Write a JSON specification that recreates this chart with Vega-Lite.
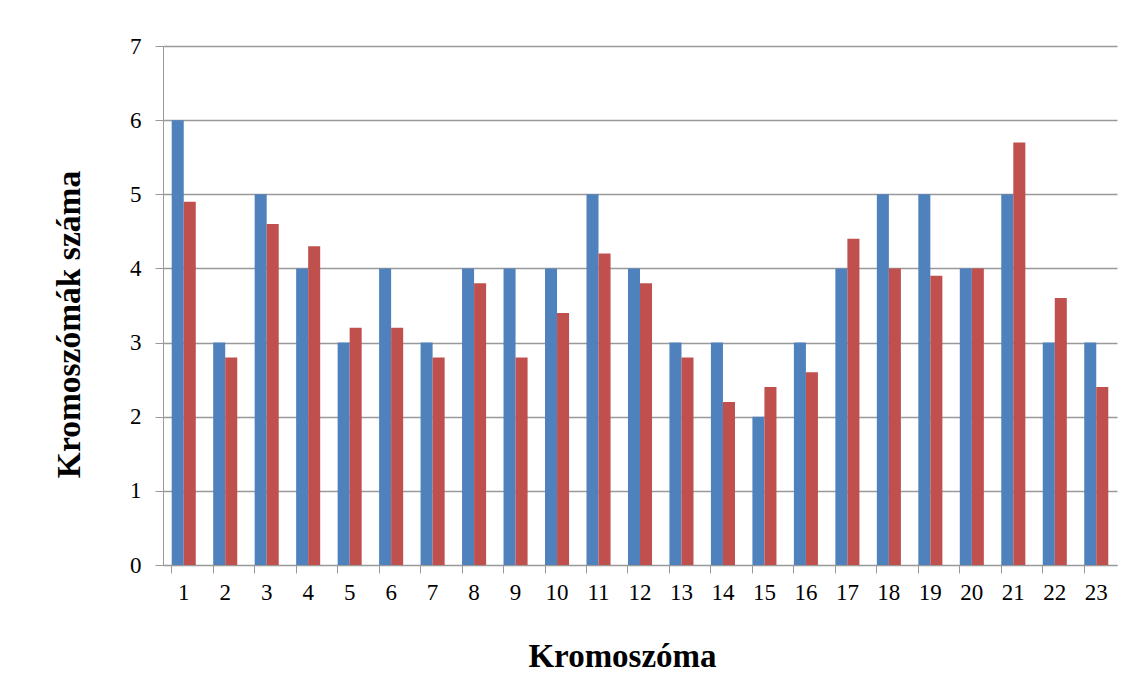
{
  "$schema": "https://vega.github.io/schema/vega-lite/v6.json",
  "autosize": "none",
  "width": 954,
  "height": 519,
  "padding": {"left": 163, "top": 46, "right": 24, "bottom": 120},
  "background": "white",
  "config": {
    "view": {"stroke": null},
    "font": "Liberation Serif"
  },
  "data": {
    "values": [
      {"k": 1, "s": "A", "v": 6}, {"k": 1, "s": "B", "v": 4.9},
      {"k": 2, "s": "A", "v": 3}, {"k": 2, "s": "B", "v": 2.8},
      {"k": 3, "s": "A", "v": 5}, {"k": 3, "s": "B", "v": 4.6},
      {"k": 4, "s": "A", "v": 4}, {"k": 4, "s": "B", "v": 4.3},
      {"k": 5, "s": "A", "v": 3}, {"k": 5, "s": "B", "v": 3.2},
      {"k": 6, "s": "A", "v": 4}, {"k": 6, "s": "B", "v": 3.2},
      {"k": 7, "s": "A", "v": 3}, {"k": 7, "s": "B", "v": 2.8},
      {"k": 8, "s": "A", "v": 4}, {"k": 8, "s": "B", "v": 3.8},
      {"k": 9, "s": "A", "v": 4}, {"k": 9, "s": "B", "v": 2.8},
      {"k": 10, "s": "A", "v": 4}, {"k": 10, "s": "B", "v": 3.4},
      {"k": 11, "s": "A", "v": 5}, {"k": 11, "s": "B", "v": 4.2},
      {"k": 12, "s": "A", "v": 4}, {"k": 12, "s": "B", "v": 3.8},
      {"k": 13, "s": "A", "v": 3}, {"k": 13, "s": "B", "v": 2.8},
      {"k": 14, "s": "A", "v": 3}, {"k": 14, "s": "B", "v": 2.2},
      {"k": 15, "s": "A", "v": 2}, {"k": 15, "s": "B", "v": 2.4},
      {"k": 16, "s": "A", "v": 3}, {"k": 16, "s": "B", "v": 2.6},
      {"k": 17, "s": "A", "v": 4}, {"k": 17, "s": "B", "v": 4.4},
      {"k": 18, "s": "A", "v": 5}, {"k": 18, "s": "B", "v": 4.0},
      {"k": 19, "s": "A", "v": 5}, {"k": 19, "s": "B", "v": 3.9},
      {"k": 20, "s": "A", "v": 4}, {"k": 20, "s": "B", "v": 4.0},
      {"k": 21, "s": "A", "v": 5}, {"k": 21, "s": "B", "v": 5.7},
      {"k": 22, "s": "A", "v": 3}, {"k": 22, "s": "B", "v": 3.6},
      {"k": 23, "s": "A", "v": 3}, {"k": 23, "s": "B", "v": 2.4}
    ]
  },
  "mark": {"type": "bar"},
  "encoding": {
    "x": {
      "field": "k", "type": "ordinal",
      "scale": {"paddingInner": 0.42, "paddingOuter": 0.21},
      "axis": {
        "title": "Kromoszóma",
        "titleFont": "Liberation Serif", "titleFontSize": 33, "titleFontWeight": "bold",
        "titleColor": "black", "titlePadding": 36, "titleX": 459,
        "labelFont": "Liberation Serif", "labelFontSize": 23, "labelColor": "black",
        "labelAngle": 0, "labelPadding": 8, "labelOverlap": false,
        "bandPosition": 0, "tickSize": 8, "tickColor": "#999", "domainColor": "#999",
        "grid": false
      }
    },
    "xOffset": {"field": "s", "type": "nominal"},
    "y": {
      "field": "v", "type": "quantitative",
      "scale": {"domain": [0, 7], "nice": false},
      "axis": {
        "title": "Kromoszómák száma",
        "titleFont": "Liberation Serif", "titleFontSize": 33.5, "titleFontWeight": "bold",
        "titleColor": "black", "titlePadding": 43, "titleY": 278,
        "labelFont": "Liberation Serif", "labelFontSize": 23, "labelColor": "black",
        "labelPadding": 14, "labelOverlap": false, "values": [0, 1, 2, 3, 4, 5, 6, 7],
        "tickSize": 8, "tickColor": "#999", "domainColor": "#999",
        "grid": true, "gridColor": "#999", "gridWidth": 1.5
      }
    },
    "color": {
      "field": "s", "type": "nominal",
      "scale": {"domain": ["A", "B"], "range": ["#4F81BD", "#C0504D"]},
      "legend": null
    }
  }
}
